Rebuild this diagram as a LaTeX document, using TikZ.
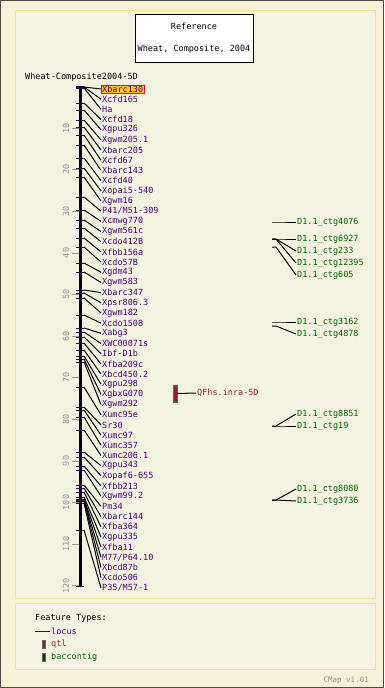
\documentclass[tikz,border=0pt]{standalone}
\usepackage{fontspec}
\setmonofont{DejaVu Sans Mono}
\definecolor{pagebg}{RGB}{246,242,216}
\definecolor{panelbg}{RGB}{244,243,226}
\definecolor{panelrim}{RGB}{240,230,150}
\definecolor{locuscol}{RGB}{75,0,120}
\definecolor{tickcol}{RGB}{60,0,80}
\definecolor{qtlcol}{RGB}{140,35,35}
\definecolor{ctgcol}{RGB}{0,100,0}
\definecolor{scalecol}{RGB}{150,150,150}
\definecolor{hilite}{RGB}{255,200,40}

\begin{document}
\begin{tikzpicture}[x=1pt, y=-1pt,
		every node/.style={font=\ttfamily\fontsize{8.5}{9}\selectfont, inner sep=1pt},
		locus/.style={anchor=west, text=locuscol},
		ctg/.style={anchor=west, text=ctgcol},
		link/.style={black, line width=1pt},
		marktick/.style={tickcol, line width=0.7pt},
		scaletick/.style={scalecol, line width=0.8pt},
		panel/.style={fill=panelbg, draw=panelrim, line width=1pt}]
	\useasboundingbox (0,0) rectangle (384,688);
	\fill[pagebg] (0,0) rectangle (384,688);
	\draw[black!70] (0.5,0.5) rectangle (383.5,687.5);
	\draw[panel] (15,10) rectangle (375,598);
	\draw[panel] (15,603) rectangle (375,669);

	% map title
	\node[draw, fill=white, minimum width=118, minimum height=48, align=center] (title) at (194,38)
		{Reference\\[13pt]Wheat, Composite, 2004};
	\node[anchor=west] (chrname) at (24,77) {Wheat-Composite2004-5D};

	% scale
	\foreach \k in {10,20,...,120} {
		\draw[scaletick] (72,{86.5+4.16*\k}) -- (80,{86.5+4.16*\k});
		\node[text=scalecol, rotate=90] (s\k) at (66,{86.5+4.16*\k}) {\k};
	}
	\draw[line width=3pt] (80,86) -- (80,586);
	\draw[line width=1pt] (76,86) -- (84,86);
	\draw[line width=1pt] (76,586) -- (84,586);

	% loci
	\node[locus, draw=red, fill=hilite, inner sep=1pt] (l1) at (101,89) {Xbarc130};
	\draw[marktick] (76,87) -- (84,87);
	\draw[link] (84,87) -- (101,89);
	\foreach \my/\lab [count=\n from 2] in {87/Xcfd165, 88/Ha, 103/Xcfd18, 110/Xgpu326,
			120/Xgwm205.1, 127/Xbarc205, 135/Xcfd67, 145/Xbarc143, 158/Xcfd40,
			168/Xopai5-540, 177/Xgwm16, 197/P41\slash M51-309, 210/Xcmwg770,
			220/Xgwm561c, 228/Xcdo412B, 238/Xfbb156a, 247/Xcdo57B, 263/Xgdm43,
			272/Xgwm583, 290/Xbarc347, 293/Xpsr806.3, 298/Xgwm182, 315/Xcdo1508,
			328/Xabg3, 332/XWC00071s, 337/Ibf-D1b, 343/Xfba209c, 350/Xbcd450.2,
			356/Xgpu298, 359/XgbxG070, 362/Xgwm292, 387/Xumc95e, 407/Sr30,
			410/Xumc97, 417/Xumc357, 430/Xumc206.1, 452/Xgpu343, 457/Xopaf6-655,
			466/Xfbb213, 470/Xgwm99.2, 485/Pm34, 488/Xbarc144, 492/Xfba364,
			497/Xgpu335, 499/Xfba11, 500/M77\slash P64.10, 501/Xbcd87b, 503/Xcdo506,
			530/P35\slash M57-1} {
		\pgfmathsetmacro{\ly}{89+10.18*(\n-1)}
		\draw[marktick] (76,\my) -- (84,\my);
		\node[locus] (l\n) at (101,\ly) {\lab};
		\draw[link] (84,\my) -- (101,\ly);
	}

	% qtl
	\node[fill=qtlcol, draw=black!60, minimum width=4, minimum height=17, inner sep=0pt] (qtl) at (175,393.5) {};
	\node[anchor=west, text=qtlcol] (qtllab) at (196,393) {QFhs.inra-5D};
	\draw[link] (qtl.east) -- (qtllab.west);

	% bac contigs
	\foreach \ya/\yb/\lab [count=\n] in {222/222/D1.1\_ctg4076, 239/239/D1.1\_ctg6927,
			239/251/D1.1\_ctg233, 239/263/D1.1\_ctg12395, 247/275/D1.1\_ctg605,
			322/322/D1.1\_ctg3162, 326/334/D1.1\_ctg4878, 426/414/D1.1\_ctg8851,
			426/426/D1.1\_ctg19, 500/489/D1.1\_ctg8080, 500/501/D1.1\_ctg3736} {
		\node[ctg] (b\n) at (296,\yb) {\lab};
		\draw[link] (272,\ya) -- (276,\ya) -- (296,\yb);
	}

	% legend
	\node[anchor=west] (legtitle) at (34,618) {Feature Types:};
	\node[locus] (leglocus) at (50,631) {locus};
	\draw[locuscol, line width=0.8pt] (35,631) -- (leglocus.west);
	\node[fill=qtlcol, draw=black!60, minimum width=3, minimum height=8, inner sep=0pt] (legqbox) at (44,644) {};
	\node[anchor=west, text=qtlcol] (legqtl) at (50,644) {qtl};
	\node[fill=ctgcol!70!black, draw=black!60, minimum width=3, minimum height=8, inner sep=0pt] (legcbox) at (44,657) {};
	\node[ctg] (legctg) at (50,657) {baccontig};
	\node[anchor=east, text=scalecol, font=\ttfamily\fontsize{7.5}{8}\selectfont] (version) at (370,680) {CMap v1.01};
\end{tikzpicture}
\end{document}
